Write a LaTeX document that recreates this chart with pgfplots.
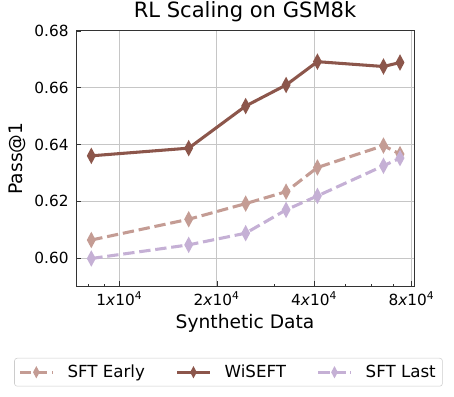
\documentclass[border=0pt]{standalone}
\usepackage{fontspec}
\setmainfont{DejaVu Sans}
\setsansfont{DejaVu Sans}
\usepackage{pgfplots}
\pgfplotsset{compat=1.18}

\definecolor{wiseft}{HTML}{8C564B}
\definecolor{sftearly}{HTML}{C49C94}
\definecolor{sftlast}{HTML}{C5B0D5}

\begin{document}
\begin{tikzpicture}
\begin{axis}[
    scale only axis,
    width=253.5pt, height=192pt,
    xmode=log,
    xmin=7348, xmax=81450,
    ymin=0.59, ymax=0.68,
    xtick={10000,20000,40000,80000},
    xticklabels={1\textit{x}10\textsuperscript{4},2\textit{x}10\textsuperscript{4},4\textit{x}10\textsuperscript{4},8\textit{x}10\textsuperscript{4}},
    minor xtick={8000,9000,30000,50000,60000,70000},
    ytick={0.60,0.62,0.64,0.66,0.68},
    yticklabel style={/pgf/number format/fixed,/pgf/number format/fixed zerofill,/pgf/number format/precision=2, xshift=-2pt},
    /pgf/number format/assume math mode=true,
    tick label style={font=\fontsize{11.5}{13}\selectfont},
    grid=major,
    major grid style={gray!45, line width=0.6pt},
    axis line style={black!80, line width=0.6pt},
    tick style={black!80},
    major tick length=4pt, minor tick length=2pt,
    xtick pos=bottom, ytick pos=left,
    title={RL Scaling on GSM8k},
    title style={font=\fontsize{15.8}{17}\selectfont, yshift=-3pt},
    xlabel={Synthetic Data},
    ylabel={Pass@1},
    label style={font=\fontsize{14}{16}\selectfont},
    xlabel style={yshift=0pt},
    legend columns=3,
    legend style={at={(0.451,-0.2785)}, anchor=north, draw=black!20, rounded corners=2pt,
        font=\fontsize{12.5}{14}\selectfont,
        /tikz/every odd column/.append style={column sep=8pt},
        /tikz/every even column/.append style={column sep=21pt},
        inner xsep=3pt, inner ysep=3pt},
    legend image code/.code={\draw[#1, mark size=2.2pt, mark repeat=2, mark phase=2] plot coordinates {(0cm,0cm) (0.43cm,0cm) (0.86cm,0cm)};},
    every axis plot/.append style={line width=2.3pt, mark=diamond*, mark size=3.8pt, mark options={solid, xscale=0.72}},
]
\addplot[sftearly, dash pattern=on 8.5pt off 3.6pt] coordinates {
(8192,0.6064) (16384,0.6137) (24576,0.6192) (32768,0.6234) (40960,0.6319) (65536,0.6396) (73728,0.6366)};
\addlegendentry{SFT Early}
\addplot[wiseft] coordinates {
(8192,0.6360) (16384,0.6387) (24576,0.6535) (32768,0.6609) (40960,0.6691) (65536,0.6674) (73728,0.6688)};
\addlegendentry{WiSEFT}
\addplot[sftlast, dash pattern=on 8.5pt off 3.6pt] coordinates {
(8192,0.5999) (16384,0.6047) (24576,0.6088) (32768,0.6170) (40960,0.6219) (65536,0.6325) (73728,0.6352)};
\addlegendentry{SFT Last}
\end{axis}
\pgfresetboundingbox
\path ([shift={(-57pt,-82.7pt)}]current axis.south west) rectangle ([shift={(30pt,23pt)}]current axis.north east);
\end{tikzpicture}
\end{document}
